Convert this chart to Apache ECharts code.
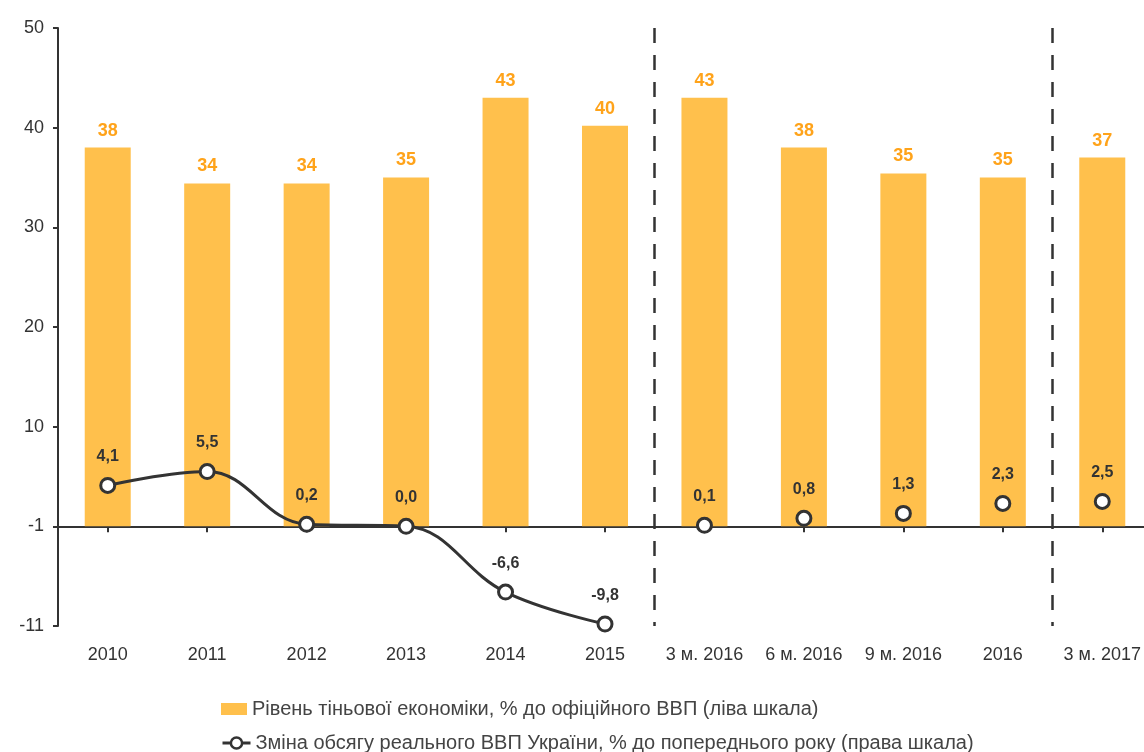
<!DOCTYPE html>
<html>
<head>
<meta charset="utf-8">
<script src="https://cdn.jsdelivr.net/npm/echarts@6/dist/echarts.min.js"></script>
<style>html,body{margin:0;padding:0;background:#fff;}#c{width:1144px;height:752px;}</style>
</head>
<body>
<div id="c"></div>
<script>
const categories = ['2010','2011','2012','2013','2014','2015','3 м. 2016','6 м. 2016','9 м. 2016','2016','3 м. 2017'];
const shadowEconomy = [38, 34.4, 34.4, 35, 43, 40.2, 43, 38, 35.4, 35, 37];
const gdpAnnual = [4.1, 5.5, 0.2, 0.0, -6.6, -9.8, null, null, null, null, null];
const gdpPeriods = [null, null, null, null, null, null, 0.1, 0.8, 1.3, 2.3, 2.5];
const yTickLabels = {'50':'50','40':'40','30':'30','20':'20','10':'10','0':'-1','-10':'-11'};
const separatorIdx = [6, 10];
const barName = 'Рівень тіньової економіки, % до офіційного ВВП (ліва шкала)';
const lineName = 'Зміна обсягу реального ВВП України, % до попереднього року (права шкала)';

const font = 'Liberation Sans, Arial, sans-serif';
const chart = echarts.init(document.getElementById('c'));
const fmtComma = p => (p.value == null ? '' : Number(p.value).toFixed(1).replace('.', ','));
const lineLabel = {show: true, position: 'top', distance: 12, formatter: fmtComma,
  color: '#333', fontWeight: 'bold', fontSize: 16, fontFamily: font};
const legendText = {fontFamily: font, fontSize: 20, color: '#444'};

chart.setOption({
  animation: false,
  backgroundColor: '#fff',
  grid: {left: 58, top: 28, width: 1094, height: 598, outerBoundsMode: 'none', containLabel: false},
  legend: [{
    left: 216, top: 694, itemWidth: 26, itemHeight: 12, textStyle: legendText,
    data: [{name: barName, icon: 'rect'}]
  }, {
    left: 216, top: 728, itemWidth: 28, itemHeight: 14, textStyle: legendText,
    lineStyle: {width: 3, color: '#333'},
    itemStyle: {color: '#fff', borderColor: '#333', borderWidth: 2.5},
    data: [{name: lineName}]
  }],
  xAxis: [{
    type: 'category', data: categories, boundaryGap: true,
    axisLine: {onZero: true, lineStyle: {color: '#333', width: 2}},
    axisTick: {show: true, alignWithLabel: true, length: 6, inside: false, lineStyle: {color: '#333', width: 2}},
    axisLabel: {show: false},
    splitLine: {show: true, interval: (i) => separatorIdx.includes(i),
      lineStyle: {color: '#333', width: 2.5, type: [15, 12]}}
  }, {
    type: 'category', data: categories, position: 'bottom', boundaryGap: true,
    axisLine: {show: false, onZero: false}, axisTick: {show: false},
    axisLabel: {show: true, interval: 0, margin: 20, color: '#333', fontSize: 18, fontFamily: font}
  }],
  yAxis: [{
    type: 'value', min: -10, max: 50, interval: 10,
    axisLine: {show: true, lineStyle: {color: '#333', width: 2}},
    axisTick: {show: true, length: 5, lineStyle: {color: '#333', width: 2}},
    axisLabel: {color: '#333', fontSize: 18, fontFamily: font, margin: 14,
      formatter: v => yTickLabels[String(v)] ?? String(v)},
    splitLine: {show: false}
  }, {
    type: 'value', min: -10, max: 50, interval: 10, show: false
  }],
  series: [{
    name: barName, type: 'bar', data: shadowEconomy, barWidth: 46,
    xAxisIndex: 0, yAxisIndex: 0,
    itemStyle: {color: '#FFC04C'},
    label: {show: true, position: 'top', distance: 8, color: '#FFA31A', fontWeight: 'bold',
      fontSize: 18, fontFamily: font, formatter: p => Math.round(p.value)}
  }, {
    name: lineName, type: 'line', data: gdpAnnual, smooth: 0.4,
    xAxisIndex: 0, yAxisIndex: 1, connectNulls: false,
    symbol: 'circle', symbolSize: 14,
    lineStyle: {color: '#333', width: 3},
    itemStyle: {color: '#fff', borderColor: '#333', borderWidth: 3},
    label: lineLabel, z: 5
  }, {
    name: lineName, type: 'line', data: gdpPeriods,
    xAxisIndex: 0, yAxisIndex: 1,
    symbol: 'circle', symbolSize: 14,
    lineStyle: {width: 0, opacity: 0},
    itemStyle: {color: '#fff', borderColor: '#333', borderWidth: 3},
    label: lineLabel, z: 5
  }]
});
</script>
</body>
</html>
